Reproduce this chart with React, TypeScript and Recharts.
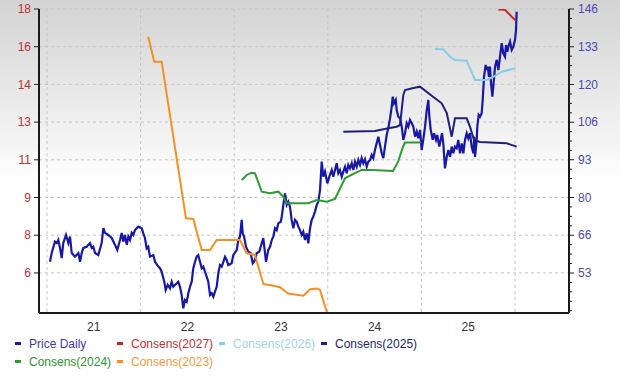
import React from 'react';
import { LineChart, Line, XAxis, YAxis, CartesianGrid } from 'recharts';

// ---------- axes ----------
const xDomain: [number, number] = [2020.9145, 2026.577];
const yearGridTicks = [2021, 2022, 2023, 2024, 2025, 2026];
const yearLabelTicks = [2021.5, 2022.5, 2023.5, 2024.5, 2025.5];
const yearLabels = ['21', '22', '23', '24', '25'];

const priceDomain: [number, number] = [4.456, 17.6];
const priceTicks = [6.19, 7.82, 9.45, 11.08, 12.71, 14.34, 15.97, 17.6];
const priceTickLabels = ['6', '8', '9', '11', '13', '14', '16', '18'];

const consDomain: [number, number] = [39.0, 146.1];
const consTicks = [53.1, 66.4, 79.7, 93.0, 106.2, 119.5, 132.8, 146.1];
const consTickLabels = ['53', '66', '80', '93', '106', '120', '133', '146'];

// ---------- series (t = decimal year, v = value) ----------
const priceDaily: [number, number][] = [
  [2021.032, 6.67], [2021.05, 7.05], [2021.085, 7.54], [2021.104, 7.48], [2021.121, 7.61],
  [2021.139, 7.27], [2021.157, 6.83], [2021.174, 7.48], [2021.203, 7.83], [2021.228, 7.48],
  [2021.246, 7.76], [2021.264, 7.05], [2021.299, 6.89], [2021.335, 7.05], [2021.353, 6.67],
  [2021.371, 7.05], [2021.388, 7.27], [2021.424, 7.32], [2021.459, 7.48], [2021.478, 7.27],
  [2021.495, 7.32], [2021.513, 7.05], [2021.548, 6.96], [2021.584, 7.48], [2021.602, 8.13],
  [2021.62, 7.92], [2021.655, 7.83], [2021.691, 7.7], [2021.727, 7.4], [2021.751, 7.18],
  [2021.78, 7.61], [2021.798, 7.92], [2021.815, 7.54], [2021.833, 7.83], [2021.852, 7.4],
  [2021.869, 7.76], [2021.887, 7.61], [2021.905, 7.92], [2021.922, 7.83], [2021.94, 8.04],
  [2021.975, 8.19], [2022.012, 8.12], [2022.029, 7.9], [2022.047, 7.69], [2022.065, 7.25],
  [2022.082, 7.32], [2022.1, 6.89], [2022.136, 6.96], [2022.154, 6.67], [2022.189, 6.46],
  [2022.207, 6.39], [2022.225, 6.24], [2022.253, 5.81], [2022.268, 5.45], [2022.29, 5.67],
  [2022.314, 5.52], [2022.332, 5.81], [2022.349, 5.59], [2022.386, 5.74], [2022.403, 5.81],
  [2022.421, 5.59], [2022.439, 5.23], [2022.456, 4.66], [2022.474, 5.02], [2022.493, 4.94],
  [2022.51, 5.31], [2022.528, 5.59], [2022.546, 5.81], [2022.563, 6.39], [2022.581, 6.67],
  [2022.599, 6.89], [2022.616, 6.96], [2022.635, 6.67], [2022.653, 6.39], [2022.67, 6.46],
  [2022.688, 6.24], [2022.706, 6.03], [2022.723, 5.81], [2022.742, 5.23], [2022.76, 5.31],
  [2022.777, 5.16], [2022.795, 5.38], [2022.813, 5.59], [2022.83, 6.17], [2022.848, 6.53],
  [2022.867, 6.46], [2022.884, 6.67], [2022.902, 6.89], [2022.92, 6.75], [2022.937, 6.53],
  [2022.973, 6.61], [2022.99, 6.96], [2023.027, 7.18], [2023.044, 7.61], [2023.062, 7.76],
  [2023.08, 8.48], [2023.091, 7.9], [2023.105, 7.76], [2023.126, 7.32], [2023.151, 7.11],
  [2023.176, 7.04], [2023.198, 6.61], [2023.222, 6.75], [2023.24, 7.04], [2023.268, 7.11],
  [2023.294, 7.47], [2023.311, 7.69], [2023.329, 7.04], [2023.34, 6.67], [2023.364, 7.18],
  [2023.383, 7.32], [2023.401, 7.61], [2023.418, 7.76], [2023.436, 8.12], [2023.454, 8.04],
  [2023.471, 8.33], [2023.497, 8.4], [2023.508, 8.62], [2023.525, 9.13], [2023.543, 9.63],
  [2023.561, 9.13], [2023.578, 9.27], [2023.596, 9.05], [2023.614, 8.48], [2023.632, 8.12],
  [2023.65, 8.48], [2023.668, 8.4], [2023.685, 8.19], [2023.703, 8.04], [2023.721, 7.83],
  [2023.738, 7.97], [2023.756, 7.61], [2023.775, 7.9], [2023.792, 7.47], [2023.81, 8.12],
  [2023.828, 8.48], [2023.845, 8.62], [2023.863, 8.84], [2023.882, 9.13], [2023.899, 9.27],
  [2023.917, 9.77], [2023.935, 11.0], [2023.952, 10.35], [2023.97, 10.57], [2023.995, 10.06],
  [2024.016, 10.35], [2024.042, 10.64], [2024.059, 10.35], [2024.077, 10.64], [2024.095, 10.93],
  [2024.112, 10.5], [2024.13, 10.64], [2024.149, 10.35], [2024.166, 10.57], [2024.184, 10.78],
  [2024.202, 10.5], [2024.219, 10.86], [2024.237, 10.71], [2024.256, 10.93], [2024.273, 10.64],
  [2024.291, 11.0], [2024.309, 10.78], [2024.326, 11.07], [2024.344, 10.86], [2024.362, 11.15],
  [2024.379, 10.93], [2024.397, 11.1], [2024.416, 10.78], [2024.433, 11.0], [2024.451, 11.07],
  [2024.469, 11.29], [2024.486, 11.15], [2024.504, 11.5], [2024.522, 11.79], [2024.54, 12.08],
  [2024.558, 11.72], [2024.576, 11.36], [2024.593, 11.15], [2024.611, 11.65], [2024.629, 12.15],
  [2024.646, 12.44], [2024.665, 12.87], [2024.683, 13.38], [2024.694, 13.81], [2024.707, 13.52],
  [2024.726, 13.67], [2024.736, 13.23], [2024.753, 12.94], [2024.772, 12.87], [2024.79, 12.51],
  [2024.807, 11.94], [2024.825, 12.23], [2024.843, 12.66], [2024.86, 12.51], [2024.878, 12.8],
  [2024.897, 12.66], [2024.914, 12.51], [2024.932, 12.08], [2024.95, 12.3], [2024.967, 12.01],
  [2024.985, 12.37], [2025.003, 11.5], [2025.02, 11.94], [2025.039, 12.51], [2025.057, 13.23],
  [2025.074, 13.67], [2025.085, 12.94], [2025.1, 12.37], [2025.121, 11.94], [2025.135, 12.23],
  [2025.156, 11.94], [2025.17, 12.15], [2025.191, 11.65], [2025.206, 11.94], [2025.22, 12.23],
  [2025.234, 11.79], [2025.252, 10.71], [2025.271, 11.21], [2025.288, 11.5], [2025.306, 11.21],
  [2025.324, 11.65], [2025.341, 11.36], [2025.359, 11.65], [2025.377, 11.58], [2025.394, 11.94],
  [2025.413, 11.36], [2025.431, 11.79], [2025.448, 11.36], [2025.466, 11.94], [2025.484, 12.23],
  [2025.501, 12.01], [2025.519, 12.23], [2025.537, 11.65], [2025.555, 11.36], [2025.565, 12.08],
  [2025.573, 11.21], [2025.591, 11.94], [2025.597, 12.51], [2025.612, 13.02], [2025.626, 12.94],
  [2025.644, 13.09], [2025.655, 13.67], [2025.669, 14.67], [2025.687, 15.18], [2025.698, 14.96],
  [2025.709, 15.11], [2025.722, 14.67], [2025.733, 15.11], [2025.744, 14.39], [2025.758, 13.81],
  [2025.768, 14.24], [2025.787, 15.11], [2025.805, 15.4], [2025.822, 14.96], [2025.84, 15.54],
  [2025.858, 16.12], [2025.875, 15.68], [2025.893, 15.54], [2025.904, 16.04], [2025.918, 15.75],
  [2025.929, 15.97], [2025.947, 16.19], [2025.965, 15.83], [2025.982, 15.97], [2026.0, 16.26],
  [2026.011, 16.69], [2026.018, 17.48],
];

const consens2027: [number, number][] = [
  [2025.822, 145.92], [2025.893, 145.82], [2025.965, 143.39], [2026.011, 141.98],
];

const consens2026: [number, number][] = [
  [2025.145, 132.01], [2025.234, 131.9], [2025.306, 129.3], [2025.359, 128.14], [2025.484, 127.89],
  [2025.573, 121.09], [2025.698, 121.09], [2025.787, 122.5], [2025.858, 124.01], [2026.005, 125.21],
];

const consens2025: [number, number][] = [
  [2024.166, 102.88], [2024.504, 103.13], [2024.646, 104.08], [2024.736, 104.64], [2024.772, 105.24],
  [2024.807, 115.81], [2024.825, 117.57], [2024.914, 118.27], [2024.985, 118.73], [2025.124, 115.21],
  [2025.217, 112.88], [2025.271, 109.47], [2025.324, 101.12], [2025.359, 107.6], [2025.484, 107.6],
  [2025.519, 104.64], [2025.562, 99.96], [2025.626, 99.25], [2025.911, 98.79], [2026.018, 97.6],
];

const consens2024: [number, number][] = [
  [2023.08, 85.87], [2023.134, 87.63], [2023.187, 88.44], [2023.222, 88.23], [2023.294, 81.74],
  [2023.383, 81.18], [2023.471, 81.74], [2023.525, 79.98], [2023.561, 77.66], [2023.792, 77.66],
  [2023.882, 78.82], [2023.989, 78.22], [2024.077, 79.17], [2024.149, 84.1], [2024.184, 86.46],
  [2024.273, 87.98], [2024.362, 89.39], [2024.469, 89.39], [2024.697, 89.04], [2024.75, 92.21],
  [2024.803, 97.49], [2024.825, 99.07], [2024.996, 99.07],
];

const consens2023: [number, number][] = [
  [2022.082, 136.34], [2022.146, 127.54], [2022.225, 127.54], [2022.485, 72.37], [2022.563, 72.13],
  [2022.653, 61.21], [2022.742, 61.21], [2022.813, 64.73], [2023.062, 64.73], [2023.134, 60.05],
  [2023.222, 59.45], [2023.311, 49.23], [2023.404, 48.7], [2023.49, 48.07], [2023.575, 45.88],
  [2023.74, 45.11], [2023.81, 47.36], [2023.885, 47.65], [2023.917, 47.12], [2023.992, 39.1],
];

const seriesNames = ['Price Daily', 'Consens(2027)', 'Consens(2026)', 'Consens(2025)', 'Consens(2024)', 'Consens(2023)'];

// ---------- styling ----------
const FONT = '"Liberation Sans", Arial, sans-serif';
const lineColors = ['#1818a6', '#c4262b', '#86cce6', '#1f1f7e', '#2f9a2f', '#f5901f'];
const legendTextColors = ['#3a3ab8', '#b83232', '#9fd3ea', '#25256e', '#2f932f', '#f39a3a'];
const legendCols = [0, 1, 2, 3, 0, 1];
const legendRows = [0, 0, 0, 0, 1, 1];

const toPts = (arr: [number, number][]) => arr.map(([t, v]) => ({ t, v }));

// right axis: labelled ticks plus three unlabelled minor ticks in each interval
const consAllTicks: number[] = [];
{
  const step = (consTicks[1] - consTicks[0]) / 4;
  for (let i = 0; i < consTicks.length; i++) {
    consAllTicks.push(consTicks[i]);
    const next = i + 1 < consTicks.length ? consTicks[i + 1] : null;
    if (next !== null) {
      const s = (next - consTicks[i]) / 4;
      for (let k = 1; k < 4; k++) consAllTicks.push(Number((consTicks[i] + s * k).toFixed(3)));
    }
  }
  for (let k = 1; consTicks[0] - step * k >= consDomain[0]; k++) {
    consAllTicks.push(Number((consTicks[0] - step * k).toFixed(3)));
  }
}

const RightTick = (props: any) => {
  const { x, y, payload } = props;
  const idx = consTicks.indexOf(payload.value);
  const major = idx >= 0;
  return (
    <g>
      <line x1={x} x2={x + (major ? 5 : 3)} y1={y} y2={y} stroke="#222" strokeWidth={1} />
      {major && (
        <text x={x + 9} y={y} dy="0.35em" fill="#4a4ab4" fontSize={12} fontFamily={FONT}>
          {consTickLabels[idx]}
        </text>
      )}
    </g>
  );
};

const series = [priceDaily, consens2027, consens2026, consens2025, consens2024, consens2023];
const axisFor = ['left', 'right', 'right', 'right', 'right', 'right'];

export default function App() {
  return (
    <div
      style={{
        position: 'absolute',
        left: 0,
        top: 0,
        width: 620,
        height: 376,
        background: 'linear-gradient(to bottom, #d3d3d3 0%, #f4f4f4 38%, #ffffff 48%, #ffffff 100%)',
        fontFamily: FONT,
      }}
    >
      <LineChart width={620} height={376} margin={{ top: 9, right: 0, bottom: 41, left: 0 }}>
        <XAxis
          xAxisId="main"
          type="number"
          dataKey="t"
          domain={xDomain}
          ticks={yearLabelTicks}
          interval={0}
          allowDataOverflow
          height={22}
          tickFormatter={(v: number) => yearLabels[yearLabelTicks.indexOf(v)] ?? ''}
          tick={{ fill: '#333', fontSize: 12, fontFamily: FONT }}
          tickLine={false}
          tickSize={0}
          tickMargin={9}
          axisLine={{ stroke: '#1a1a1a', strokeWidth: 2 }}
        />
        <XAxis
          xAxisId="grid"
          type="number"
          dataKey="t"
          domain={xDomain}
          ticks={yearGridTicks}
          hide
          height={0}
          allowDataOverflow
        />
        <YAxis
          yAxisId="left"
          orientation="left"
          width={39}
          type="number"
          domain={priceDomain}
          ticks={priceTicks}
          interval={0}
          allowDataOverflow
          tickFormatter={(v: number) => priceTickLabels[priceTicks.indexOf(v)] ?? ''}
          tick={{ fill: '#b83434', fontSize: 12, fontFamily: FONT }}
          tickLine={{ stroke: '#222' }}
          tickSize={5}
          tickMargin={3}
          axisLine={{ stroke: '#1a1a1a', strokeWidth: 2 }}
        />
        <YAxis
          yAxisId="right"
          orientation="right"
          width={51}
          type="number"
          domain={consDomain}
          ticks={consAllTicks}
          interval={0}
          allowDataOverflow
          tick={<RightTick />}
          tickLine={false}
          tickSize={0}
          tickMargin={0}
          axisLine={{ stroke: '#1a1a1a', strokeWidth: 2 }}
        />
        <CartesianGrid xAxisId="grid" yAxisId="left" stroke="#c6c6c6" strokeDasharray="3 3" />
        {series.map((s, i) => (
          <Line
            key={seriesNames[i]}
            name={seriesNames[i]}
            data={toPts(s)}
            dataKey="v"
            xAxisId="main"
            yAxisId={axisFor[i]}
            type="linear"
            stroke={lineColors[i]}
            strokeWidth={i === 0 ? 2.2 : 2}
            dot={false}
            activeDot={false}
            isAnimationActive={false}
          />
        ))}
      </LineChart>
      <div style={{ position: 'absolute', left: 0, top: 335, width: 620, height: 40, fontSize: 12 }}>
        {seriesNames.map((name, i) => (
          <div
            key={name}
            style={{
              position: 'absolute',
              left: 15 + legendCols[i] * 102,
              top: legendRows[i] * 17.5,
              height: 18,
              lineHeight: '18px',
              whiteSpace: 'nowrap',
              color: legendTextColors[i],
            }}
          >
            <span
              style={{
                display: 'inline-block',
                width: 6,
                height: 3,
                background: lineColors[i],
                verticalAlign: 'middle',
                marginRight: 8,
                marginBottom: 2,
              }}
            />
            {name}
          </div>
        ))}
      </div>
    </div>
  );
}
